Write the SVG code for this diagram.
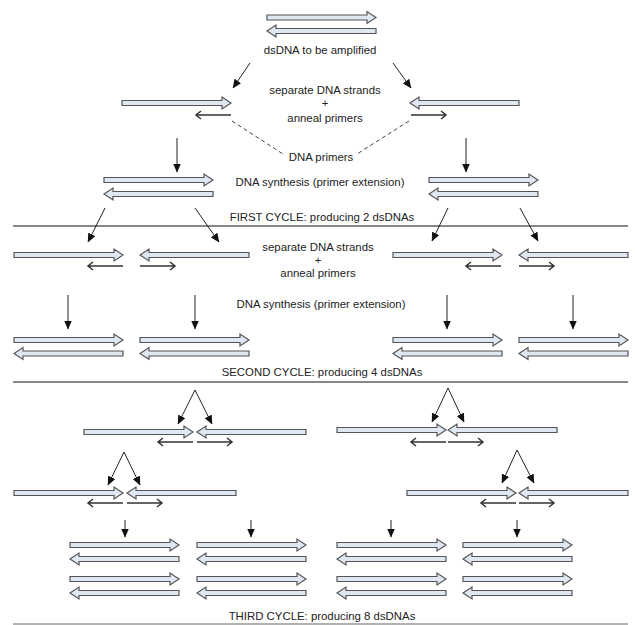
<svg xmlns="http://www.w3.org/2000/svg" xmlns:xlink="http://www.w3.org/1999/xlink" width="635" height="625" viewBox="0 0 635 625">
<style>
.t{font-family:"Liberation Sans",Arial,sans-serif;font-size:11.4px;fill:#222;text-anchor:middle}
.s{fill:#dfe7f3;stroke:#555;stroke-width:1.2;stroke-linejoin:miter}
.p{fill:none;stroke:#333;stroke-width:1.5}
.c{stroke:#222;stroke-width:1;fill:none}
.d{stroke:#444;stroke-width:1;stroke-dasharray:4 3;fill:none}
.rule{stroke:#111;stroke-width:1.2}
</style>
<defs>
<path id="fwd" class="s" d="M0,-2.5 H100 V-6 L109,0 L100,6 V2.5 H0 Z"/>
<path id="rev" class="s" d="M109,-2.5 H9 V-6 L0,0 L9,6 V2.5 H109 Z"/>
<path id="pl" class="p" d="M36,0 H1 M6,-4 L1,0 L6,4"/>
<path id="pr" class="p" d="M0,0 H35 M30,-4 L35,0 L30,4"/>
<marker id="ah" markerWidth="9" markerHeight="8" refX="8.5" refY="4" orient="auto" markerUnits="userSpaceOnUse">
<path d="M0,0 L9,4 L0,8 Z" fill="#111"/>
</marker>
</defs>
<rect width="635" height="625" fill="#fff"/>

<g id="connectors">
<line class="c" x1="250" y1="63" x2="233" y2="88" marker-end="url(#ah)"/>
<line class="c" x1="393" y1="63" x2="411" y2="88" marker-end="url(#ah)"/>
<line class="d" x1="232" y1="121" x2="283" y2="154"/>
<line class="d" x1="409" y1="121" x2="357" y2="154"/>
<line class="c" x1="177" y1="138" x2="177" y2="172" marker-end="url(#ah)"/>
<line class="c" x1="466" y1="138" x2="466" y2="172" marker-end="url(#ah)"/>
<line class="c" x1="105" y1="208" x2="88" y2="242" marker-end="url(#ah)"/>
<line class="c" x1="195" y1="208" x2="219" y2="242" marker-end="url(#ah)"/>
<line class="c" x1="448" y1="208" x2="432" y2="241" marker-end="url(#ah)"/>
<line class="c" x1="520" y1="208" x2="538" y2="241" marker-end="url(#ah)"/>
<line class="c" x1="68" y1="295" x2="68" y2="329" marker-end="url(#ah)"/>
<line class="c" x1="195" y1="295" x2="195" y2="329" marker-end="url(#ah)"/>
<line class="c" x1="447" y1="295" x2="447" y2="329" marker-end="url(#ah)"/>
<line class="c" x1="573" y1="295" x2="573" y2="329" marker-end="url(#ah)"/>
<path class="c" d="M195,390 L178,424" marker-end="url(#ah)"/>
<path class="c" d="M195,390 L212,424" marker-end="url(#ah)"/>
<path class="c" d="M124,452 L108,485" marker-end="url(#ah)"/>
<path class="c" d="M124,452 L140,485" marker-end="url(#ah)"/>
<path class="c" d="M448,388 L432,422" marker-end="url(#ah)"/>
<path class="c" d="M448,388 L464,422" marker-end="url(#ah)"/>
<path class="c" d="M517,450 L502,483" marker-end="url(#ah)"/>
<path class="c" d="M517,450 L534,483" marker-end="url(#ah)"/>
<line class="c" x1="125" y1="520" x2="125" y2="537" marker-end="url(#ah)"/>
<line class="c" x1="251" y1="520" x2="251" y2="537" marker-end="url(#ah)"/>
<line class="c" x1="391" y1="520" x2="391" y2="537" marker-end="url(#ah)"/>
<line class="c" x1="517" y1="520" x2="517" y2="537" marker-end="url(#ah)"/>
</g>

<g id="dividers">
<line class="rule" x1="13" y1="226" x2="628" y2="226"/>
<line class="rule" x1="13" y1="382" x2="628" y2="382"/>
<line class="rule" x1="13" y1="624" x2="628" y2="624" style="stroke:#666"/>
</g>

<g id="ds-start">
<use href="#fwd" x="267" y="17.5"/>
<use href="#rev" x="267" y="31"/>
</g>
<g id="sep1-left">
<use href="#fwd" x="122" y="103"/>
<use href="#pl" x="195" y="115"/>
</g>
<g id="sep1-right">
<use href="#rev" x="410" y="103"/>
<use href="#pr" x="411" y="115"/>
</g>
<g id="cycle1-left">
<use href="#fwd" x="104" y="180"/>
<use href="#rev" x="104" y="194"/>
</g>
<g id="cycle1-right">
<use href="#fwd" x="429" y="180"/>
<use href="#rev" x="429" y="194"/>
</g>

<g id="sep2-a"><use href="#fwd" x="14" y="255"/><use href="#pl" x="87" y="266"/></g>
<g id="sep2-b"><use href="#rev" x="140" y="255"/><use href="#pr" x="140" y="266"/></g>
<g id="sep2-c"><use href="#fwd" x="393" y="255"/><use href="#pl" x="465" y="266"/></g>
<g id="sep2-d"><use href="#rev" x="519" y="255"/><use href="#pr" x="519" y="266"/></g>

<g id="cycle2-a"><use href="#fwd" x="14" y="340"/><use href="#rev" x="14" y="353.5"/></g>
<g id="cycle2-b"><use href="#fwd" x="140" y="340"/><use href="#rev" x="140" y="353.5"/></g>
<g id="cycle2-c"><use href="#fwd" x="393" y="340"/><use href="#rev" x="393" y="353.5"/></g>
<g id="cycle2-d"><use href="#fwd" x="519" y="340"/><use href="#rev" x="519" y="353.5"/></g>

<g id="sep3-a"><use href="#fwd" x="84" y="432"/><use href="#rev" x="197" y="432"/><use href="#pl" x="157" y="442"/><use href="#pr" x="197" y="442"/></g>
<g id="sep3-b"><use href="#fwd" x="14" y="493"/><use href="#rev" x="127" y="493"/><use href="#pl" x="87" y="503"/><use href="#pr" x="127" y="503"/></g>
<g id="sep3-c"><use href="#fwd" x="337" y="430"/><use href="#rev" x="448" y="430"/><use href="#pl" x="410" y="442"/><use href="#pr" x="448" y="442"/></g>
<g id="sep3-d"><use href="#fwd" x="407" y="493"/><use href="#rev" x="519" y="493"/><use href="#pl" x="480" y="503"/><use href="#pr" x="519" y="503"/></g>

<g id="cycle3-a"><use href="#fwd" x="70" y="545"/><use href="#rev" x="70" y="559"/><use href="#fwd" x="70" y="579"/><use href="#rev" x="70" y="593"/></g>
<g id="cycle3-b"><use href="#fwd" x="197" y="545"/><use href="#rev" x="197" y="559"/><use href="#fwd" x="197" y="579"/><use href="#rev" x="197" y="593"/></g>
<g id="cycle3-c"><use href="#fwd" x="337" y="545"/><use href="#rev" x="337" y="559"/><use href="#fwd" x="337" y="579"/><use href="#rev" x="337" y="593"/></g>
<g id="cycle3-d"><use href="#fwd" x="463" y="545"/><use href="#rev" x="463" y="559"/><use href="#fwd" x="463" y="579"/><use href="#rev" x="463" y="593"/></g>

<g id="labels">
<text class="t" x="320" y="54">dsDNA to be amplified</text>
<text class="t" x="325" y="94">separate DNA strands</text>
<text class="t" x="325" y="107">+</text>
<text class="t" x="325" y="122">anneal primers</text>
<text class="t" x="321" y="161">DNA primers</text>
<text class="t" x="320" y="186">DNA synthesis (primer extension)</text>
<text class="t" x="322" y="221">FIRST CYCLE: producing 2 dsDNAs</text>
<text class="t" x="318" y="251">separate DNA strands</text>
<text class="t" x="318" y="264">+</text>
<text class="t" x="318" y="277">anneal primers</text>
<text class="t" x="321" y="308">DNA synthesis (primer extension)</text>
<text class="t" x="322" y="376">SECOND CYCLE: producing 4 dsDNAs</text>
<text class="t" x="322" y="620">THIRD CYCLE: producing 8 dsDNAs</text>
</g>
</svg>
